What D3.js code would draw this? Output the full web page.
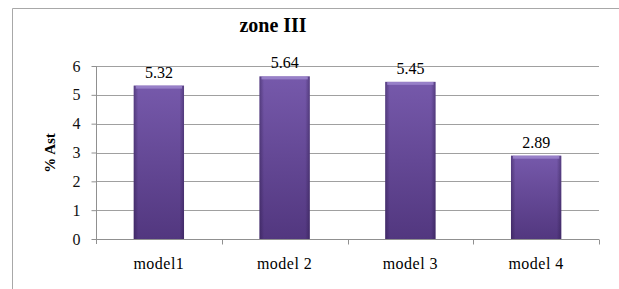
<!DOCTYPE html>
<html>
<head>
<meta charset="utf-8">
<script src="https://cdn.jsdelivr.net/npm/d3@7"></script>
<style>
  html, body { margin: 0; padding: 0; background: #fff; }
  svg { display: block; }
  svg text { font-family: "Liberation Serif", "Times New Roman", Times, "DejaVu Serif", serif; }
</style>
</head>
<body>
<div id="chart"></div>
<script>
// values
const categories = ['model1', 'model 2', 'model 3', 'model 4'];
const values = [5.32, 5.64, 5.45, 2.89];
const valueLabels = ['5.32', '5.64', '5.45', '2.89'];
const yTicks = [0, 1, 2, 3, 4, 5, 6];
const chartTitle = 'zone III';
const yTitle = '% Ast';

const width = 619, height = 289;
const margin = {top: 66, right: 20, bottom: 50, left: 96};
const plotW = 599 - margin.left;
const plotH = 239 - margin.top;
const serif = '"Liberation Serif", "Times New Roman", Times, "DejaVu Serif", serif';

const svg = d3.select('#chart').append('svg')
    .attr('width', width)
    .attr('height', height);

// gradients for the bevelled bars
const defs = svg.append('defs');
const gv = defs.append('linearGradient').attr('id', 'barV')
    .attr('x1', 0).attr('y1', 0).attr('x2', 0).attr('y2', 1);
gv.append('stop').attr('offset', '0%').attr('stop-color', '#7659ab');
gv.append('stop').attr('offset', '100%').attr('stop-color', '#52377f');
const gh = defs.append('linearGradient').attr('id', 'barH')
    .attr('x1', 0).attr('y1', 0).attr('x2', 1).attr('y2', 0);
gh.append('stop').attr('offset', '0%').attr('stop-color', '#24143f').attr('stop-opacity', 0.4);
gh.append('stop').attr('offset', '9%').attr('stop-color', '#24143f').attr('stop-opacity', 0);
gh.append('stop').attr('offset', '91%').attr('stop-color', '#24143f').attr('stop-opacity', 0);
gh.append('stop').attr('offset', '100%').attr('stop-color', '#24143f').attr('stop-opacity', 0.4);

// outer chart frame (cut off at the right and bottom)
svg.append('path')
    .attr('d', 'M12.5,' + (height + 5) + 'V8.5H' + (width + 5))
    .attr('fill', 'none')
    .attr('stroke', '#a8a8a8')
    .attr('stroke-width', 1);

// title
svg.append('text')
    .attr('x', 273)
    .attr('y', 32)
    .attr('text-anchor', 'middle')
    .attr('font-family', serif)
    .style('font-size', '20px')
    .style('font-weight', 'bold')
    .text(chartTitle);

const g = svg.append('g')
    .attr('transform', 'translate(' + margin.left + ',' + margin.top + ')');

const scaleX = d3.scaleBand().domain(categories).range([0, plotW]).paddingInner(0.6).paddingOuter(0.3);
const scaleY = d3.scaleLinear().domain([0, 6]).range([plotH, 0]);

// gridlines
g.append('g')
    .selectAll('line')
    .data(yTicks.slice(1))
    .enter().append('line')
    .attr('x1', 0).attr('x2', plotW)
    .attr('y1', (d) => Math.round(scaleY(d)) + 0.5)
    .attr('y2', (d) => Math.round(scaleY(d)) + 0.5)
    .attr('stroke', '#a0a0a0');

// y axis
const yAxis = g.append('g')
    .attr('transform', 'translate(0.5,0)')
    .call(d3.axisLeft(scaleY).tickValues(yTicks).tickSize(5).tickPadding(11).tickFormat(d3.format('d')));
yAxis.attr('font-family', serif);
yAxis.select('.domain').attr('stroke', '#909090').attr('d', 'M0,0.5V' + (plotH + 5));
yAxis.selectAll('.tick line').attr('stroke', '#909090');
yAxis.selectAll('.tick text')
    .attr('font-family', serif)
    .style('font-size', '16px')
    .attr('fill', '#111');

// x axis with boundary ticks
const xAxisG = g.append('g').attr('transform', 'translate(0,' + (plotH + 0.5) + ')');
xAxisG.append('line').attr('x1', 0).attr('x2', plotW).attr('stroke', '#909090');
xAxisG.selectAll('.bt')
    .data(d3.range(1, categories.length + 1))
    .enter().append('line')
    .attr('class', 'bt')
    .attr('x1', (i) => Math.round(i * plotW / categories.length) + 0.5)
    .attr('x2', (i) => Math.round(i * plotW / categories.length) + 0.5)
    .attr('y1', 0).attr('y2', 5)
    .attr('stroke', '#909090');
xAxisG.selectAll('.cl')
    .data(categories)
    .enter().append('text')
    .attr('x', (d) => scaleX(d) + scaleX.bandwidth() / 2)
    .attr('y', 29)
    .attr('text-anchor', 'middle')
    .attr('font-family', serif)
    .style('font-size', '16px')
    .style('letter-spacing', '0.5px')
    .text((d) => d);

// bars
const bars = g.selectAll('.bar')
    .data(values)
    .enter().append('g')
    .attr('class', 'bar');
bars.append('rect')
    .attr('x', (d, i) => scaleX(categories[i]))
    .attr('y', (d) => scaleY(d))
    .attr('width', scaleX.bandwidth())
    .attr('height', (d) => plotH - scaleY(d))
    .attr('fill', 'url(#barV)');
bars.append('rect')
    .attr('x', (d, i) => scaleX(categories[i]))
    .attr('y', (d) => scaleY(d))
    .attr('width', scaleX.bandwidth())
    .attr('height', (d) => plotH - scaleY(d))
    .attr('fill', 'url(#barH)');
bars.append('rect')
    .attr('x', (d, i) => scaleX(categories[i]) + 2)
    .attr('y', (d) => scaleY(d))
    .attr('width', scaleX.bandwidth() - 4)
    .attr('height', 3)
    .attr('fill', '#a08ad0')
    .attr('opacity', 0.8);

// value labels
g.selectAll('.vl')
    .data(values)
    .enter().append('text')
    .attr('x', (d, i) => scaleX(categories[i]) + scaleX.bandwidth() / 2)
    .attr('y', (d) => scaleY(d) - 8)
    .attr('text-anchor', 'middle')
    .attr('font-family', serif)
    .style('font-size', '16px')
    .text((d, i) => valueLabels[i]);

// y axis title
svg.append('text')
    .attr('transform', 'translate(55,153) rotate(-90)')
    .attr('text-anchor', 'middle')
    .attr('font-family', serif)
    .style('font-size', '15px')
    .style('font-weight', 'bold')
    .text(yTitle);
</script>
</body>
</html>
